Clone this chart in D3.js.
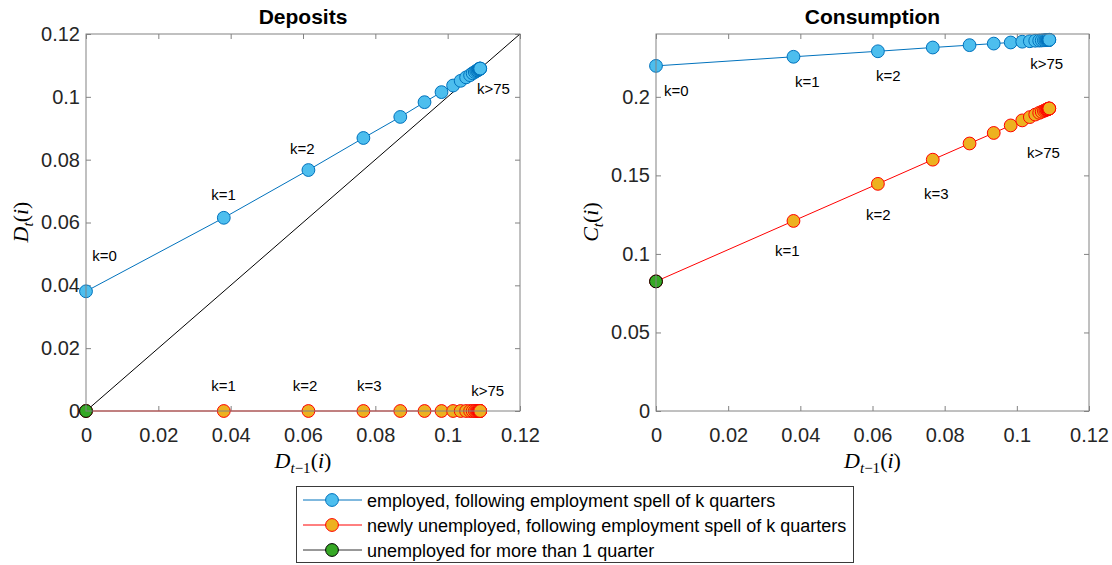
<!DOCTYPE html>
<html>
<head>
<meta charset="utf-8">
<script src="https://cdn.jsdelivr.net/npm/d3@7"></script>
<style>
  body { margin: 0; background: #fff; }
  svg { display: block; font-family: "Liberation Sans", Arial, Helvetica, sans-serif; }
</style>
</head>
<body>
<svg id="chart" width="1112" height="565"></svg>
<script>
// ---------------- data ----------------
// Deposits held at the start of the quarter, after k quarters of employment (k = 0, 1, 2, ...)
const depositsBefore = [0, 0.0381, 0.0615, 0.0767, 0.0869, 0.0936, 0.0983, 0.1015, 0.1036, 0.1051,
  0.1062, 0.1069, 0.1075, 0.1079, 0.1082, 0.1084, 0.1086, 0.1087, 0.1088, 0.1089, 0.1089, 0.1090, 0.1090];
// End-of-quarter deposits of an agent who stays employed
const depositsAfterEmployed = [0.0381, 0.0615, 0.0767, 0.0869, 0.0936, 0.0983, 0.1015, 0.1036, 0.1051, 0.1062,
  0.1069, 0.1075, 0.1079, 0.1082, 0.1084, 0.1086, 0.1087, 0.1088, 0.1089, 0.1089, 0.1090, 0.1090, 0.1090];
// End-of-quarter deposits of an agent who has just lost the job
const depositsAfterNewlyUnemployed = [0, 0, 0, 0, 0, 0, 0, 0, 0, 0, 0, 0, 0, 0, 0, 0, 0, 0, 0, 0, 0, 0, 0];
// Consumption of the employed
const consumptionEmployed = [0.2197, 0.2255, 0.2290, 0.2314, 0.2329, 0.2339, 0.2346, 0.2351, 0.2354, 0.2357,
  0.2358, 0.2359, 0.2360, 0.2361, 0.2361, 0.2362, 0.2362, 0.2362, 0.2362, 0.2363, 0.2363, 0.2363, 0.2363];
// Consumption of the newly unemployed
const consumptionNewlyUnemployed = [0.0825, 0.1210, 0.1446, 0.1600, 0.1703, 0.1770, 0.1818, 0.1850, 0.1871, 0.1887,
  0.1898, 0.1905, 0.1911, 0.1915, 0.1918, 0.1920, 0.1922, 0.1923, 0.1924, 0.1925, 0.1925, 0.1926, 0.1926];
// Long-term unemployed (more than one quarter)
const longTermDepositsBefore = [0];
const longTermDepositsAfter = [0];
const longTermConsumption = [0.0825];

// Axis ticks
const xTicks = [0, 0.02, 0.04, 0.06, 0.08, 0.1, 0.12];
const xTickLabels = ["0", "0.02", "0.04", "0.06", "0.08", "0.1", "0.12"];
const depositTicks = [0, 0.02, 0.04, 0.06, 0.08, 0.1, 0.12];
const depositTickLabels = ["0", "0.02", "0.04", "0.06", "0.08", "0.1", "0.12"];
const consumptionTicks = [0, 0.05, 0.1, 0.15, 0.2];
const consumptionTickLabels = ["0", "0.05", "0.1", "0.15", "0.2"];

// Spell-length annotations (data coordinates of the text's left baseline)
const depositNotes = [
  { t: "k=0", x: 0.0017, y: 0.0479 }, { t: "k=1", x: 0.0346, y: 0.0673 },
  { t: "k=2", x: 0.0564, y: 0.0819 }, { t: "k>75", x: 0.1081, y: 0.1010 },
  { t: "k=1", x: 0.0346, y: 0.0063 }, { t: "k=2", x: 0.0572, y: 0.0063 },
  { t: "k=3", x: 0.0749, y: 0.0063 }, { t: "k>75", x: 0.1065, y: 0.0048 }
];
const consumptionNotes = [
  { t: "k=0", x: 0.0022, y: 0.2006 }, { t: "k=1", x: 0.0385, y: 0.2064 },
  { t: "k=2", x: 0.0610, y: 0.2102 }, { t: "k>75", x: 0.1037, y: 0.2178 },
  { t: "k=1", x: 0.0330, y: 0.0987 }, { t: "k=2", x: 0.0582, y: 0.1217 },
  { t: "k=3", x: 0.0743, y: 0.1350 }, { t: "k>75", x: 0.1028, y: 0.1611 }
];

// ---------------- styles ----------------
const BLUE_LINE = "#0072BD", BLUE_FILL = "#4DBEEE";
const RED_LINE = "#FF0000", RED_FILL = "#EDB120";
const GREEN_FILL = "#36A825";
const AXIS_COLOR = "#828282", TEXT_COLOR = "#262626";
const R = 6.4;

const svg = d3.select("#chart");
svg.append("rect").attr("width", 1112).attr("height", 565).attr("fill", "#fff");

function panel(opts) {
  const x = d3.scaleLinear().domain([0, 0.12]).range([opts.left, opts.right]);
  const y = d3.scaleLinear().domain(opts.yDomain).range([411, 34]);
  const g = svg.append("g");

  // axes with inward ticks on all four sides
  const fmt = (ticks, labels) => (d) => labels[ticks.indexOf(d)];
  const axB = g.append("g").attr("transform", "translate(0,411)")
    .call(d3.axisBottom(x).tickValues(xTicks).tickFormat(fmt(xTicks, xTickLabels)).tickSize(-5).tickPadding(17));
  const axT = g.append("g").attr("transform", "translate(0,34)")
    .call(d3.axisTop(x).tickValues(xTicks).tickFormat("").tickSize(-5));
  const axL = g.append("g").attr("transform", `translate(${opts.left},0)`)
    .call(d3.axisLeft(y).tickValues(opts.yTicks).tickFormat(fmt(opts.yTicks, opts.yLabels)).tickSize(-5).tickPadding(6));
  const axR = g.append("g").attr("transform", `translate(${opts.right},0)`)
    .call(d3.axisRight(y).tickValues(opts.yTicks).tickFormat("").tickSize(-5));
  [axB, axT, axL, axR].forEach(a => {
    a.select(".domain").remove();
    a.selectAll(".tick line").attr("stroke", AXIS_COLOR);
    a.selectAll(".tick text").attr("fill", TEXT_COLOR).style("font-size", "20px")
      .style("font-family", '"Liberation Sans", Arial, sans-serif');
  });

  const plot = g.append("g");
  const line = d3.line().x(d => x(d[0])).y(d => y(d[1]));

  if (opts.diagonal) {
    plot.append("path").datum([[0, 0], [0.12, 0.12]]).attr("d", line)
      .attr("stroke", "#000").attr("stroke-width", 1).attr("fill", "none");
  }

  opts.series.forEach(s => {
    const pts = s.xs.map((v, i) => [v, s.ys[i]]);
    if (s.stroke) {
      plot.append("path").datum(pts).attr("d", line)
        .attr("stroke", s.stroke).attr("stroke-width", 1).attr("fill", "none");
    }
    plot.selectAll(null).data(pts).enter().append("circle")
      .attr("cx", d => x(d[0])).attr("cy", d => y(d[1])).attr("r", R)
      .attr("fill", s.fill).attr("stroke", s.edge).attr("stroke-width", 1);
  });

  // frame
  g.append("rect").attr("x", opts.left).attr("y", 34)
    .attr("width", opts.right - opts.left).attr("height", 411 - 34)
    .attr("fill", "none").attr("stroke", AXIS_COLOR).attr("stroke-width", 1);

  // annotations
  g.selectAll(null).data(opts.notes).enter().append("text")
    .attr("x", d => x(d.x)).attr("y", d => y(d.y))
    .attr("fill", "#000").style("font-size", "15px").text(d => d.t);

  // title
  const cx = (opts.left + opts.right) / 2;
  g.append("text").attr("x", cx).attr("y", 24).attr("text-anchor", "middle")
    .style("font-size", "21px").style("font-weight", "bold").attr("fill", "#000").text(opts.title);

  // x label  D_{t-1}(i)
  const xl = g.append("text").attr("x", cx).attr("y", 468).attr("text-anchor", "middle")
    .style("font-family", '"Liberation Serif", "Times New Roman", serif').style("font-size", "22px").attr("fill", "#000");
  xl.append("tspan").style("font-style", "italic").text("D");
  xl.append("tspan").attr("dy", 5).style("font-size", "15px").style("font-style", "italic").text("t");
  xl.append("tspan").style("font-size", "15px").text("\u22121");
  xl.append("tspan").attr("dy", -5).text("(");
  xl.append("tspan").style("font-style", "italic").text("i");
  xl.append("tspan").text(")");

  // y label
  const yl = g.append("text").attr("transform", `translate(${opts.left - 58},222) rotate(-90)`)
    .attr("text-anchor", "middle")
    .style("font-family", '"Liberation Serif", "Times New Roman", serif').style("font-size", "22px").attr("fill", "#000");
  yl.append("tspan").style("font-style", "italic").text(opts.yVar);
  yl.append("tspan").attr("dy", 5).style("font-size", "15px").style("font-style", "italic").text("t");
  yl.append("tspan").attr("dy", -5).text("(");
  yl.append("tspan").style("font-style", "italic").text("i");
  yl.append("tspan").text(")");
}

panel({
  left: 86, right: 520, yDomain: [0, 0.12], title: "Deposits", yVar: "D",
  yTicks: depositTicks, yLabels: depositTickLabels, diagonal: true, notes: depositNotes,
  series: [
    { xs: depositsBefore, ys: depositsAfterNewlyUnemployed, stroke: RED_LINE, fill: RED_FILL, edge: RED_LINE },
    { xs: depositsBefore, ys: depositsAfterEmployed, stroke: BLUE_LINE, fill: BLUE_FILL, edge: BLUE_LINE },
    { xs: longTermDepositsBefore, ys: longTermDepositsAfter, stroke: null, fill: GREEN_FILL, edge: "#000" }
  ]
});

panel({
  left: 656, right: 1089, yDomain: [0, 0.24], title: "Consumption", yVar: "C",
  yTicks: consumptionTicks, yLabels: consumptionTickLabels, diagonal: false, notes: consumptionNotes,
  series: [
    { xs: depositsBefore, ys: consumptionEmployed, stroke: BLUE_LINE, fill: BLUE_FILL, edge: BLUE_LINE },
    { xs: depositsBefore, ys: consumptionNewlyUnemployed, stroke: RED_LINE, fill: RED_FILL, edge: RED_LINE },
    { xs: longTermDepositsBefore, ys: longTermConsumption, stroke: null, fill: GREEN_FILL, edge: "#000" }
  ]
});

// ---------------- legend ----------------
const legendItems = [
  { label: "employed, following employment spell of k quarters", stroke: BLUE_LINE, fill: BLUE_FILL, edge: BLUE_LINE },
  { label: "newly unemployed, following employment spell of k quarters", stroke: RED_LINE, fill: RED_FILL, edge: RED_LINE },
  { label: "unemployed for more than 1 quarter", stroke: "#333", fill: GREEN_FILL, edge: "#000" }
];
const lg = svg.append("g");
lg.append("rect").attr("x", 296.5).attr("y", 486.5).attr("width", 557).attr("height", 76)
  .attr("fill", "#fff").attr("stroke", "#3a3a3a").attr("stroke-width", 1);
const rows = lg.selectAll(null).data(legendItems).enter().append("g")
  .attr("transform", (d, i) => `translate(0,${500 + i * 25})`);
rows.append("line").attr("x1", 303).attr("x2", 362).attr("y1", 0).attr("y2", 0)
  .attr("stroke", d => d.stroke).attr("stroke-width", 1);
rows.append("circle").attr("cx", 332).attr("cy", 0).attr("r", R)
  .attr("fill", d => d.fill).attr("stroke", d => d.edge).attr("stroke-width", 1);
rows.append("text").attr("x", 367).attr("y", 6.5).style("font-size", "18px").attr("fill", "#000")
  .text(d => d.label);
</script>
</body>
</html>
